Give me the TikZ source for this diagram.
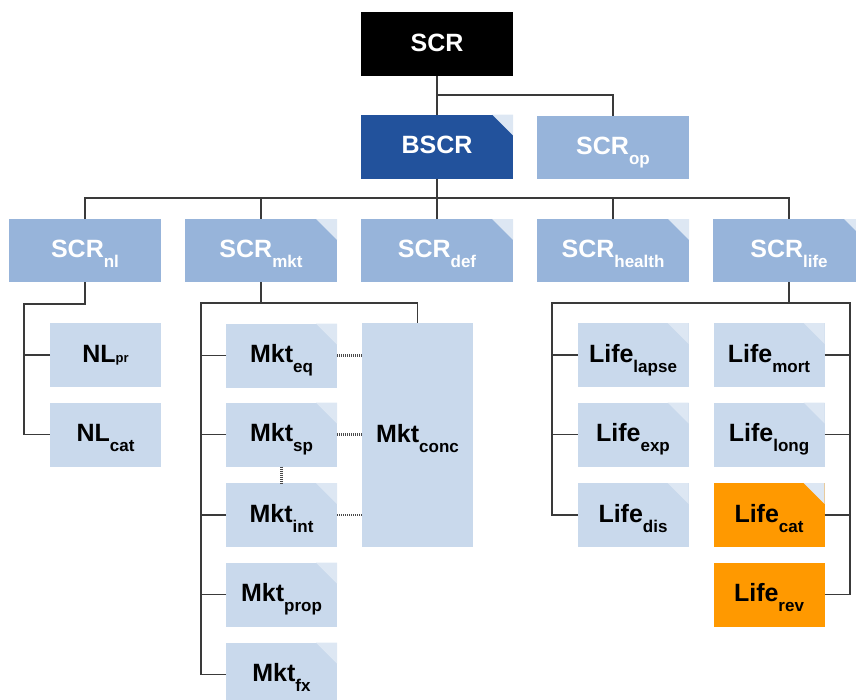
\documentclass[tikz,border=0pt]{standalone}
\usepackage{fontspec}
\setmainfont{Liberation Sans}
\definecolor{bscrc}{HTML}{22529C}
\definecolor{midc}{HTML}{97B4DA}
\definecolor{palec}{HTML}{C9D9EC}
\definecolor{foldc}{HTML}{DDE7F3}
\definecolor{orangec}{HTML}{FF9900}
\definecolor{linec}{HTML}{3A3A3A}
\definecolor{dotc}{HTML}{4A4A4A}
\newcommand\lbl[2]{#1\raisebox{-10pt}{\fontsize{17}{17}\selectfont #2}}
\tikzset{
 every node/.style={inner sep=0pt, outer sep=0pt, font=\fontsize{25}{25}\selectfont\bfseries, text height=20pt, text depth=6pt},
 bigbox/.style={rectangle, minimum width=152pt, minimum height=64pt},
 topbox/.style={bigbox, fill=black, text=white},
 bscrbox/.style={bigbox, fill=bscrc, text=white},
 midbox/.style={bigbox, fill=midc, text=white, minimum height=63pt},
 leaf/.style={rectangle, minimum width=111pt, minimum height=64pt, fill=palec, text=black},
 orangebox/.style={leaf, fill=orangec},
 fold/.style={path picture={\fill[foldc] ([xshift=-21pt]path picture bounding box.north east) -- (path picture bounding box.north east) -- ([yshift=-21pt]path picture bounding box.north east) -- cycle;}},
 link/.style={draw=linec, line width=1.3pt},
 dotlink/.style={draw=dotc, line width=2.4pt, dash pattern=on 1.2pt off 0.8pt},
}
\begin{document}
\begin{tikzpicture}[x=1pt,y=-1pt]
\useasboundingbox (0,0) rectangle (856,699);
\clip (0,0) rectangle (856,699);
% top
\node[topbox] (scr) at (437,44) {SCR};
\node[bscrbox,fold] (bscr) at (437,146.5) {BSCR};
\node[midbox] (scrop) at (613,147.5) {\lbl{SCR}{op}};
% row 2
\node[midbox] (scrnl) at (85,250.5) {\lbl{SCR}{nl}};
\node[midbox,fold] (scrmkt) at (261,250.5) {\lbl{SCR}{mkt}};
\node[midbox,fold] (scrdef) at (437,250.5) {\lbl{SCR}{def}};
\node[midbox,fold] (scrhealth) at (613,250.5) {\lbl{SCR}{health}};
\node[midbox,fold] (scrlife) at (789,250.5) {\lbl{SCR}{life}};
% NL
\node[leaf] (nlpr) at (105.5,355) {NL{\fontsize{13}{13}\selectfont pr}};
\node[leaf] (nlcat) at (105.5,434.5) {\lbl{NL}{cat}};
% Mkt
\node[leaf,fold] (mkteq) at (281.5,355.5) {\lbl{Mkt}{eq}};
\node[leaf,fold] (mktsp) at (281.5,434.5) {\lbl{Mkt}{sp}};
\node[leaf,fold] (mktint) at (281.5,515) {\lbl{Mkt}{int}};
\node[leaf,fold] (mktprop) at (281.5,594.5) {\lbl{Mkt}{prop}};
\node[leaf,fold] (mktfx) at (281.5,674.5) {\lbl{Mkt}{fx}};
\node[leaf,minimum height=224pt] (mktconc) at (417.5,435) {\lbl{Mkt}{conc}};
% Life
\node[leaf,fold] (lifelapse) at (633,355) {\lbl{Life}{lapse}};
\node[leaf,fold] (lifeexp) at (633,434.5) {\lbl{Life}{exp}};
\node[leaf,fold] (lifedis) at (633,515) {\lbl{Life}{dis}};
\node[leaf,fold] (lifemort) at (769,355) {\lbl{Life}{mort}};
\node[leaf,fold] (lifelong) at (769,434.5) {\lbl{Life}{long}};
\node[orangebox,fold] (lifecat) at (769,515) {\lbl{Life}{cat}};
\node[orangebox] (liferev) at (769,594.5) {\lbl{Life}{rev}};
% connectors: top
\coordinate (j1) at (437,95);
\draw[link] (scr.south) -- (bscr.north);
\draw[link] (j1) -| (scrop.north);
% row 2 bus
\coordinate (j2) at (437,198);
\draw[link] (bscr.south) -- (j2);
\draw[link] (scrnl.north) -- (scrnl.north |- j2) -- (scrlife.north |- j2) -- (scrlife.north);
\draw[link] (scrmkt.north) -- (scrmkt.north |- j2);
\draw[link] (scrdef.north) -- (scrdef.north |- j2);
\draw[link] (scrhealth.north) -- (scrhealth.north |- j2);
% NL
\coordinate (nlbus) at (24,304);
\draw[link] (scrnl.south) |- (nlbus) |- (nlcat.west);
\draw[link] (nlpr.west) -- (nlpr.west -| nlbus);
% Mkt
\coordinate (mktbus) at (201,303);
\draw[link] (scrmkt.south) |- (mktbus) |- (mktfx.west);
\draw[link] (scrmkt.south |- mktbus) -| (mktconc.north);
\draw[link] (mkteq.west) -- (mkteq.west -| mktbus);
\draw[link] (mktsp.west) -- (mktsp.west -| mktbus);
\draw[link] (mktint.west) -- (mktint.west -| mktbus);
\draw[link] (mktprop.west) -- (mktprop.west -| mktbus);
\draw[dotlink] (mkteq.east) -- (mkteq.east -| mktconc.west);
\draw[dotlink] (mktsp.east) -- (mktsp.east -| mktconc.west);
\draw[dotlink] (mktint.east) -- (mktint.east -| mktconc.west);
\draw[dotlink] (mktsp.south) -- (mktint.north);
% Life
\coordinate (lifebusL) at (552,303);
\coordinate (lifebusR) at (850,303);
\draw[link] (scrlife.south) |- (lifebusL) |- (lifedis.west);
\draw[link] (scrlife.south |- lifebusL) -- (lifebusR) |- (liferev.east);
\draw[link] (lifelapse.west) -- (lifelapse.west -| lifebusL);
\draw[link] (lifeexp.west) -- (lifeexp.west -| lifebusL);
\draw[link] (lifemort.east) -- (lifemort.east -| lifebusR);
\draw[link] (lifelong.east) -- (lifelong.east -| lifebusR);
\draw[link] (lifecat.east) -- (lifecat.east -| lifebusR);
\end{tikzpicture}
\end{document}
